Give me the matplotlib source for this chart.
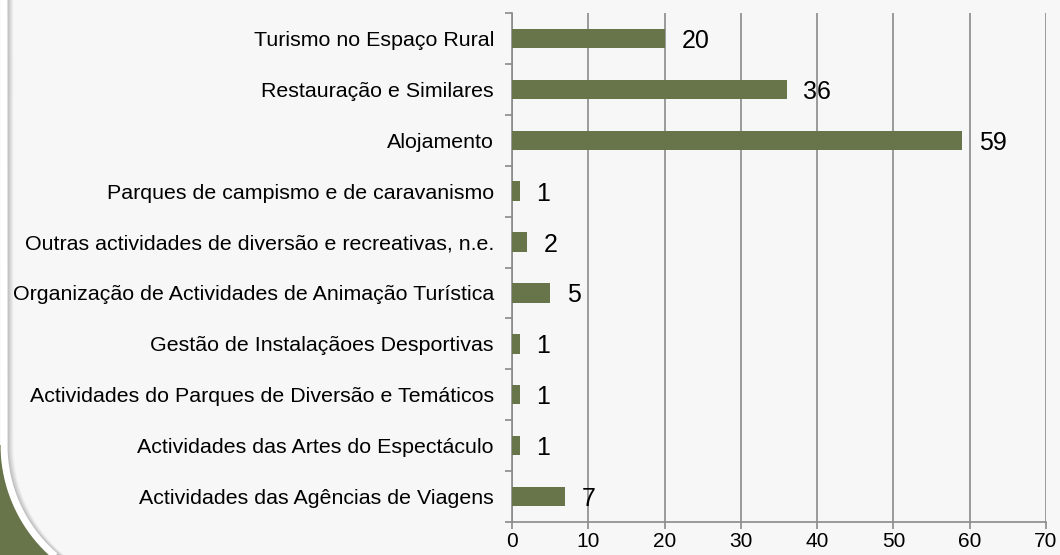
import numpy as np
import matplotlib.pyplot as plt
from matplotlib.ticker import MultipleLocator

plt.rcParams['font.family'] = ['Liberation Sans', 'DejaVu Sans']

categorias = [
    "Turismo no Espaço Rural",
    "Restauração e Similares",
    "Alojamento",
    "Parques de campismo e de caravanismo",
    "Outras actividades de diversão e recreativas, n.e.",
    "Organização de Actividades de Animação Turística",
    "Gestão de Instalaçãoes Desportivas",
    "Actividades do Parques de Diversão e Temáticos",
    "Actividades das Artes do Espectáculo",
    "Actividades das Agências de Viagens",
]
valores = [20, 36, 59, 1, 2, 5, 1, 1, 1, 7]

fundo = "#f7f7f7"
verde = "#68744a"
grelha = "#8a8a8a"

fig = plt.figure(figsize=(10.6, 5.55), dpi=100, facecolor=fundo)

# -----------------------
# decoração canto inferior esquerdo
# -----------------------
deco = fig.add_axes([0, 0, 1, 1], zorder=0)
deco.set_xlim(0, 1060)
deco.set_ylim(555, 0)
deco.axis("off")
cy, r = 445, 146
yy = np.r_[np.linspace(-5, cy, 50), np.linspace(cy, 560, 200)]
xx = r - np.sqrt(np.clip(r**2 - (np.clip(yy, cy, None) - cy) ** 2, 0, None))
deco.fill(np.r_[xx[50:] + 1, -5, -5], np.r_[yy[50:], 560, cy], color=verde, lw=0)
# sombra
for k, a in zip(range(12, 6, -1), [0.05, 0.08, 0.11, 0.15, 0.2, 0.25]):
    deco.plot(xx + k, yy, color="#808080", lw=2, alpha=a, solid_capstyle="butt")
deco.plot(xx + 4, yy, color="white", lw=5, solid_capstyle="butt")

# -----------------------
# gráfico de barras
# -----------------------
ax = fig.add_axes([512 / 1060, 1 - 522 / 555, (1046 - 512) / 1060, (522 - 13) / 555], zorder=1)
ax.set_facecolor("none")
y = np.arange(len(categorias))
ax.barh(y, valores, height=0.38, color=verde, zorder=3)
ax.set_xlim(0, 70)
ax.set_ylim(len(categorias) - 0.5, -0.5)
ax.xaxis.set_major_locator(MultipleLocator(10))
ax.grid(axis="x", color=grelha, lw=1.2, zorder=1)
ax.set_yticks(y)
ax.set_yticklabels(categorias, fontsize=15.4)
ax.set_yticks(np.arange(-0.5, len(categorias)), minor=True)
ax.tick_params(axis="y", which="major", length=0, pad=13)
ax.tick_params(axis="y", which="minor", length=5, width=1.2, color=grelha)
ax.tick_params(axis="x", length=5, width=1.2, color=grelha, labelsize=15, pad=2.5)
for s in ["top", "right"]:
    ax.spines[s].set_visible(False)
for s in ["left", "bottom"]:
    ax.spines[s].set_color(grelha)
    ax.spines[s].set_linewidth(1.2)

for yi, v in zip(y, valores):
    ax.text(v + 2.2, yi + 0.05, str(v), va="center", ha="left", fontsize=18, zorder=4)

plt.savefig("out.png", dpi=100, facecolor=fundo)
